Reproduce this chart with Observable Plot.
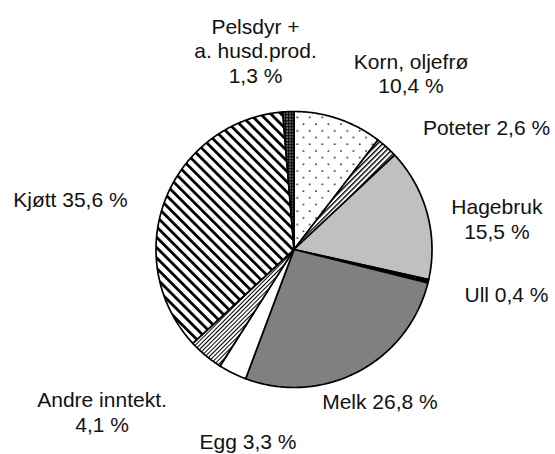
<!DOCTYPE html>
<html>
<head>
<meta charset="utf-8">
<script src="https://cdn.jsdelivr.net/npm/d3@7"></script>
<script src="https://cdn.jsdelivr.net/npm/@observablehq/plot@0.6"></script>
<style>
  html, body { margin: 0; padding: 0; background: #fff; }
  #chart svg { display: block; }
</style>
</head>
<body>
<div id="chart"></div>
<script>
// ---- data ----
const categories = ["Korn, oljefrø", "Poteter", "Hagebruk", "Ull", "Melk", "Egg", "Andre inntekt.", "Kjøtt", "Pelsdyr + a. husd.prod."];
const shares = [10.4, 2.6, 15.5, 0.4, 26.8, 3.3, 4.1, 35.6, 1.3];
const labelTexts = [
  "Korn, oljefrø\n10,4 %",
  "Poteter 2,6 %",
  "Hagebruk\n15,5 %",
  "Ull 0,4 %",
  "Melk 26,8 %",
  "Egg 3,3 %",
  "Andre inntekt.\n4,1 %",
  "Kjøtt 35,6 %",
  "Pelsdyr +\na. husd.prod.\n1,3 %"
];

// ---- styles / layout (not data) ----
const sliceFills = ["url(#pKorn)", "url(#pPoteter)", "#c0c0c0", "#000000", "#808080", "#ffffff", "url(#pAndre)", "url(#pKjott)", "url(#pPels)"];
// label anchor in pie-radius units (x right, y up), relative to centre
const labelLayout = [
  [0.848, 1.279], [1.395, 0.887], [1.47, 0.225], [1.540, -0.326], [0.623, -1.099],
  [-0.333, -1.385], [-1.391, -1.172], [-1.620, 0.367], [-0.279, 1.443]
];

// ---- geometry from data ----
const pie = d3.pie().sort(null).value(d => d.share)(categories.map((name, i) => ({name, share: shares[i]})));
const slicePts = [];
for (const arc of pie) {
  const name = arc.data.name;
  slicePts.push({name, a: 0, r: 0});
  const n = Math.max(2, Math.ceil((arc.endAngle - arc.startAngle) / (Math.PI / 360)));
  for (let k = 0; k <= n; k++) {
    const a = arc.startAngle + (arc.endAngle - arc.startAngle) * k / n;
    slicePts.push({name, a, r: 1});
  }
}
slicePts.forEach(p => { p.x = p.r * Math.sin(p.a); p.y = p.r * Math.cos(p.a); });

const labels = labelTexts.map((text, i) => ({text, x: labelLayout[i][0], y: labelLayout[i][1]}));

const plot = Plot.plot({
  width: 555,
  height: 454,
  margin: 0,
  x: {domain: [-1, 1], range: [155.5, 431.5], axis: null},
  y: {domain: [-1, 1], range: [387, 111], axis: null},
  color: {type: "ordinal", domain: categories, range: sliceFills},
  style: {fontFamily: "'Liberation Sans', Arial, sans-serif", background: "#fff"},
  marks: [
    Plot.line(slicePts, {x: "x", y: "y", z: "name", fill: "name", stroke: "#000", strokeWidth: 1.7, curve: "linear-closed", strokeLinejoin: "round"}),
    Plot.text(labels, {x: "x", y: "y", text: "text", fontSize: 21, lineHeight: 1.18, fill: "#111", textAnchor: "middle"})
  ]
});

// pattern definitions
const defs = d3.select(plot).insert("defs", ":first-child");
const korn = defs.append("pattern").attr("id", "pKorn").attr("patternUnits", "userSpaceOnUse").attr("width", 12.5).attr("height", 13.4);
korn.append("rect").attr("width", 12.5).attr("height", 13.4).attr("fill", "#fff");
korn.append("circle").attr("cx", 3).attr("cy", 3).attr("r", 0.9).attr("fill", "#222");
korn.append("circle").attr("cx", 9.25).attr("cy", 9.7).attr("r", 0.9).attr("fill", "#222");

function hatch(id, w, lw, angle) {
  const p = defs.append("pattern").attr("id", id).attr("patternUnits", "userSpaceOnUse")
    .attr("width", w).attr("height", w).attr("patternTransform", `rotate(${angle})`);
  p.append("rect").attr("width", w).attr("height", w).attr("fill", "#fff");
  p.append("rect").attr("x", 0).attr("width", lw).attr("height", w).attr("fill", "#000");
}
hatch("pPoteter", 3.6, 1.4, 45);
hatch("pAndre", 3, 1, 45);
hatch("pKjott", 7.3, 2.8, -45);

const pels = defs.append("pattern").attr("id", "pPels").attr("patternUnits", "userSpaceOnUse").attr("width", 3).attr("height", 3);
pels.append("rect").attr("width", 3).attr("height", 3).attr("fill", "#000");
pels.append("rect").attr("x", 1).attr("y", 1).attr("width", 1.3).attr("height", 1.3).attr("fill", "#fff");

document.getElementById("chart").appendChild(plot);
</script>
</body>
</html>
